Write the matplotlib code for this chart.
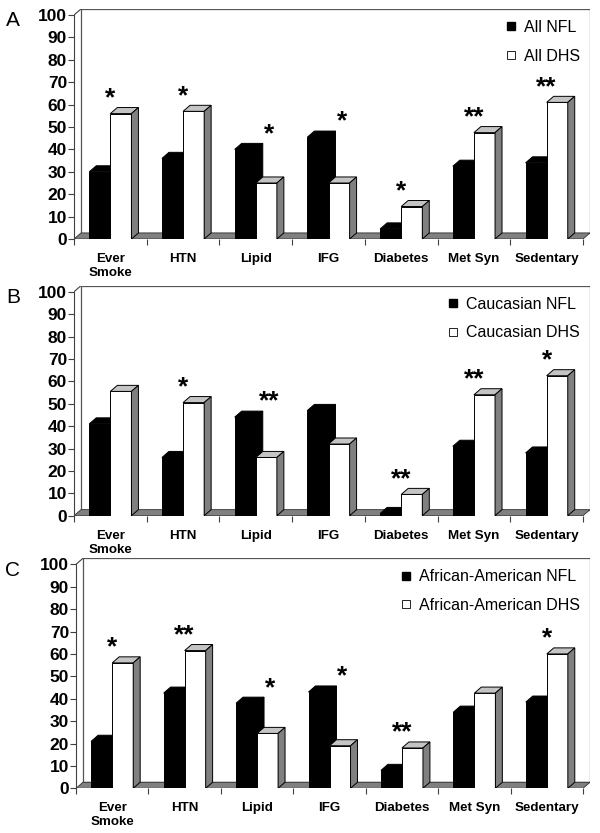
import matplotlib

matplotlib.use("Agg")
import matplotlib.pyplot as plt
from matplotlib.lines import Line2D
from matplotlib.patches import Polygon, Rectangle
import numpy as np

plt.rcParams["font.family"] = ["Liberation Sans", "DejaVu Sans"]

categories = ["Ever\nSmoke", "HTN", "Lipid", "IFG", "Diabetes", "Met Syn", "Sedentary"]
yticks = [0, 10, 20, 30, 40, 50, 60, 70, 80, 90, 100]

all_nfl = [30, 36, 40, 45.5, 4.5, 32.5, 34]
all_dhs = [56, 57, 25, 25, 14.5, 47.5, 61]
all_stars = ["*", "*", "*", "*", "*", "**", "**"]

cau_nfl = [41, 26, 44, 47, 1, 31, 28]
cau_dhs = [55.5, 50.5, 26, 32, 9.5, 54, 62.5]
cau_stars = ["", "*", "**", "", "**", "**", "*"]

aa_nfl = [21, 42.5, 38, 43, 8, 34, 38.5]
aa_dhs = [56, 61.5, 24.5, 19, 18, 42.5, 60]
aa_stars = ["*", "**", "*", "*", "**", "", "*"]

PANELS = [
    ("A", all_nfl, all_dhs, all_stars, ("All NFL", "All DHS"), 74, 239),
    ("B", cau_nfl, cau_dhs, cau_stars, ("Caucasian NFL", "Caucasian DHS"), 74, 515.7),
    ("C", aa_nfl, aa_dhs, aa_stars, ("African-American NFL", "African-American DHS"), 76, 788.3),
]

W, H = 600, 833
DX = 0.096   # depth offset in category units
DY = 2.7     # depth offset in value units
BAR_W = 0.29
SIDE = "#808080"
TOP = "#c4c4c4"


def draw_bar(ax, x0, value, face, top, side):
    ax.add_patch(Rectangle((x0, 0), BAR_W, value, fc=face, ec="black", lw=0.7, zorder=3))
    ax.add_patch(Polygon([(x0, value), (x0 + DX, value + DY), (x0 + BAR_W + DX, value + DY),
                          (x0 + BAR_W, value)], closed=True, fc=top, ec="black", lw=0.7, zorder=3))
    ax.add_patch(Polygon([(x0 + BAR_W, 0), (x0 + BAR_W + DX, DY), (x0 + BAR_W + DX, value + DY),
                          (x0 + BAR_W, value)], closed=True, fc=side, ec="black", lw=0.7, zorder=3))


def draw_panel(fig, letter, nfl, dhs, stars, names, left_px, zero_px):
    n = len(categories)
    xmax = n - 0.5 + DX
    width_px = 590 - left_px
    height_px = 230
    ax = fig.add_axes([left_px / W, (H - zero_px) / H, width_px / W, height_px / H])
    ax.set_xlim(-0.5, xmax)
    ax.set_ylim(0, 100 + DY)
    for side in ["top", "right", "bottom"]:
        ax.spines[side].set_visible(False)
    ax.spines["left"].set_bounds(0, 100)
    ax.spines["left"].set_linewidth(0.8)
    ax.spines["left"].set_color("#404040")

    # back wall, floor and left wall edge
    ax.add_patch(Rectangle((-0.5 + DX, DY), n, 100, fc="white", ec="#555555", lw=0.9, zorder=0))
    ax.add_patch(Polygon([(-0.5, 0), (n - 0.5, 0), (n - 0.5 + DX, DY), (-0.5 + DX, DY)],
                         closed=True, fc=SIDE, ec="#333333", lw=0.6, zorder=1))
    ax.add_line(Line2D([-0.5, -0.5 + DX], [100, 100 + DY], color="#404040", lw=0.8))

    x = np.arange(n)
    for i in range(n):
        draw_bar(ax, x[i] - BAR_W, nfl[i], "black", "black", "black")
        draw_bar(ax, x[i], dhs[i], "white", TOP, SIDE)
        if stars[i]:
            sx = x[i] + (0.18 if nfl[i] > dhs[i] else 0.0)
            sy = max(nfl[i], dhs[i]) + 1.5
            ax.text(sx, sy, stars[i], ha="center", va="bottom", fontsize=19,
                    fontweight="bold", zorder=4)

    ax.set_yticks(yticks)
    ax.set_yticklabels([str(v) for v in yticks], fontsize=12.5, fontweight="bold")
    ax.tick_params(axis="y", length=4, width=0.8, pad=1, color="#404040")
    ax.set_xticks(x)
    ax.set_xticklabels(categories, fontsize=9.6, fontweight="bold", linespacing=1.25)
    ax.set_xticks(np.arange(n + 1) - 0.5, minor=True)
    ax.tick_params(axis="x", which="major", length=0, pad=10)
    ax.tick_params(axis="x", which="minor", length=4, width=0.8, color="#404040")

    handles = [
        Line2D([], [], marker="s", ls="", mfc="black", mec="black", ms=6),
        Line2D([], [], marker="s", ls="", mfc="white", mec="black", mew=0.6, ms=6),
    ]
    top_px = zero_px - height_px
    fig.legend(handles, names, loc="upper right", bbox_to_anchor=(580 / W, 1 - (top_px + 11) / H),
               frameon=False, fontsize=11.5, handlelength=0.8, handletextpad=0.4,
               labelspacing=0.85, borderaxespad=0, borderpad=0)
    fig.text(13 / W, 1 - (top_px + 12) / H, letter, fontsize=15, ha="center", va="center")


fig = plt.figure(figsize=(W / 100, H / 100), dpi=100)
for letter, nfl, dhs, stars, names, left_px, zero_px in PANELS:
    draw_panel(fig, letter, nfl, dhs, stars, names, left_px, zero_px)

fig.savefig("out.png", dpi=100)
